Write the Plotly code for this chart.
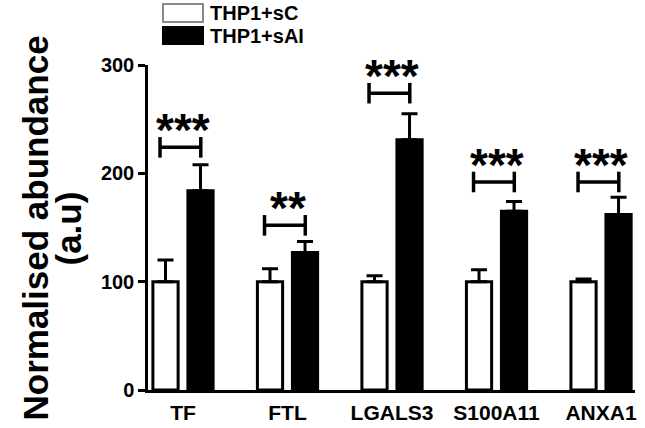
import plotly.graph_objects as go

# ---- data ----
categories = ["TF", "FTL", "LGALS3", "S100A11", "ANXA1"]
sc_mean = [100, 100, 100, 100, 100]
sc_err = [20, 12, 5.5, 11, 2.5]
sai_mean = [184, 127, 231, 165, 162]
sai_err = [24, 10, 24, 9, 16]
bracket_y = [224, 152, 274, 192, 192]
stars = ["***", "**", "***", "***", "***"]
series_names = ["THP1+sC", "THP1+sAI"]
y_ticks = [0, 100, 200, 300]

W, H = 645, 428
ML, MR, MT, MB = 148, 10, 65, 38
PW, PH = W - ML - MR, H - MT - MB

def px(x):
    return (x - ML) / PW

def py(y):
    return (H - MB - y) / PH

FONT = "Liberation Sans, Arial, sans-serif"
pos = list(range(len(categories)))

fig = go.Figure()
fig.add_trace(go.Bar(
    x=pos, y=sc_mean, name=series_names[0], showlegend=False,
    marker=dict(color="white", line=dict(color="black", width=3)),
    error_y=dict(type="data", array=sc_err, arrayminus=[0] * len(sc_err),
                 symmetric=False, color="black", thickness=3, width=8),
))
fig.add_trace(go.Bar(
    x=pos, y=sai_mean, name=series_names[1], showlegend=False,
    marker=dict(color="black", line=dict(color="black", width=3)),
    error_y=dict(type="data", array=sai_err, arrayminus=[0] * len(sai_err),
                 symmetric=False, color="black", thickness=3, width=8),
))

# significance brackets
d = 9.5
for i, (h, s) in enumerate(zip(bracket_y, stars)):
    x0, x1 = i - 0.22, i + 0.17
    fig.add_trace(go.Scatter(
        x=[x0, x0, None, x0, x1, None, x1, x1],
        y=[h - d, h + d, None, h, h, None, h - d, h + d],
        mode="lines", line=dict(color="black", width=3.5),
        showlegend=False, hoverinfo="skip",
    ))
    fig.add_annotation(x=i, y=h, yshift=-11, text=f"<b>{s}</b>", showarrow=False,
                       xanchor="center", yanchor="bottom",
                       font=dict(family=FONT, size=46, color="black"))

# manual legend
boxes = [(4, 22, "white", "#888888"), (27, 44, "black", "black")]
for (y0, y1, fc, lc), name in zip(boxes, series_names):
    fig.add_shape(type="rect", xref="paper", yref="paper",
                  x0=px(163), x1=px(203), y0=py(y1), y1=py(y0),
                  fillcolor=fc, line=dict(color=lc, width=2))
    fig.add_annotation(xref="paper", yref="paper", x=px(208), y=py((y0 + y1) / 2),
                       text=f"<b>{name}</b>", showarrow=False, xanchor="left",
                       yanchor="middle",
                       font=dict(family=FONT, size=20, color="black"))

# y-axis title (two lines placed separately)
for txt, xc in [("Normalised abundance", 35), ("(a.u)", 68)]:
    fig.add_annotation(xref="paper", yref="paper", x=px(xc), y=py(228.5),
                       text=f"<b>{txt}</b>", textangle=-90, showarrow=False,
                       xanchor="center", yanchor="middle",
                       font=dict(family=FONT, size=35, color="black"))

fig.update_layout(
    template="none",
    width=W, height=H,
    margin=dict(l=ML, r=MR, t=MT, b=MB, pad=0, autoexpand=False),
    paper_bgcolor="white", plot_bgcolor="white",
    barmode="group", bargap=0.33, bargroupgap=0.28,
    font=dict(family=FONT, color="black"),
    showlegend=False,
)
fig.update_xaxes(
    automargin=False,
    range=[-0.335, 4.325], tickvals=pos, ticktext=[f"<b>{c}</b>" for c in categories],
    showline=True, linecolor="black", linewidth=2.5, ticks="", showgrid=False,
    zeroline=False, tickfont=dict(family=FONT, size=21, color="black"),
    ticklabelstandoff=2,
)
fig.update_yaxes(
    automargin=False,
    range=[0, 300], tickvals=y_ticks, ticktext=[f"<b>{t}</b>" for t in y_ticks],
    showline=True, linecolor="black", linewidth=2.5, ticks="outside",
    ticklen=7, tickwidth=2.5, tickcolor="black", showgrid=False, zeroline=False,
    tickfont=dict(family=FONT, size=20, color="black"),
)

fig.write_html(
    "out.html",
    config={"displayModeBar": False},
    post_script="document.body.style.margin='0';document.body.style.overflow='hidden';",
)
